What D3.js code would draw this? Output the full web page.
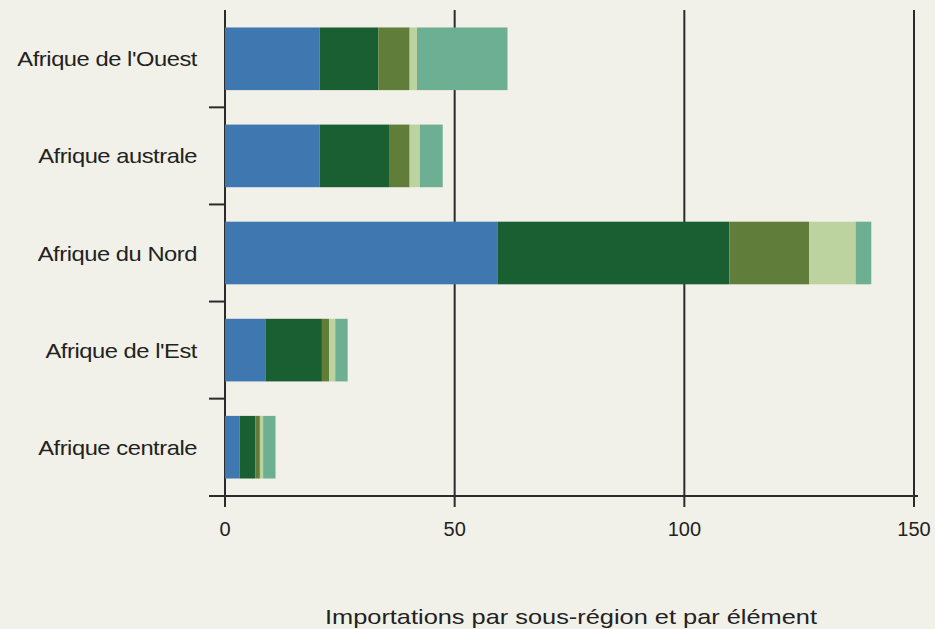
<!DOCTYPE html>
<html><head><meta charset="utf-8">
<script src="https://cdn.jsdelivr.net/npm/d3@7"></script>
<style>
html,body{margin:0;padding:0;background:#f2f1e9;}
svg{display:block;}
text{font-family:"Liberation Sans",Arial,sans-serif;fill:#222;}
</style></head>
<body>
<script>
const categories = ["Afrique de l'Ouest","Afrique australe","Afrique du Nord","Afrique de l'Est","Afrique centrale"];
const seriesNames = ["s1","s2","s3","s4","s5"];
const s1 = [20.6, 20.6, 59.3, 8.8, 3.2];
const s2 = [12.8, 15.1, 50.5, 12.3, 3.4];
const s3 = [6.8, 4.5, 17.4, 1.6, 1.0];
const s4 = [1.6, 2.2, 10.1, 1.3, 0.7];
const s5 = [19.7, 5.0, 3.4, 2.7, 2.7];
const colors = ["#3f78b0","#195f31","#607e3a","#bcd3a0","#6daf93"];
const xTicks = [0, 50, 100, 150];
const title = "Importations par sous-région et par élément";

const W = 935, H = 629;
const svg = d3.select("body").append("svg").attr("width", W).attr("height", H);
svg.append("rect").attr("width", W).attr("height", H).attr("fill", "#f2f1e9");

const x = d3.scaleLinear().domain([0, 150]).range([225, 914]);
const y = d3.scaleBand().domain(categories).range([10, 496]).paddingInner(0.355).paddingOuter(0.18);

const rows = categories.map((c, i) => ({cat: c, s1: s1[i], s2: s2[i], s3: s3[i], s4: s4[i], s5: s5[i]}));
const stack = d3.stack().keys(seriesNames)(rows);

// gridlines & bottom ticks
svg.append("g").selectAll("line").data(xTicks).join("line")
  .attr("x1", d => x(d)).attr("x2", d => x(d))
  .attr("y1", 10).attr("y2", 507)
  .attr("stroke", "#2b2b2b").attr("stroke-width", 2);

// bars
svg.append("g").selectAll("g").data(stack).join("g")
  .attr("fill", (d, i) => colors[i])
  .selectAll("rect").data(d => d).join("rect")
  .attr("x", d => x(d[0]))
  .attr("width", d => x(d[1]) - x(d[0]))
  .attr("y", d => y(d.data.cat))
  .attr("height", y.bandwidth());

// x axis line
svg.append("line").attr("x1", 209).attr("x2", 918).attr("y1", 496).attr("y2", 496)
  .attr("stroke", "#2b2b2b").attr("stroke-width", 2);

// y axis band separator ticks
const step = y.step();
const seps = categories.slice(1).map(c => y(c) - (step - y.bandwidth()) / 2);
svg.append("g").selectAll("line").data(seps).join("line")
  .attr("x1", 209).attr("x2", x(0)).attr("y1", d => d).attr("y2", d => d)
  .attr("stroke", "#2b2b2b").attr("stroke-width", 2);

// category labels
svg.append("g").selectAll("text").data(categories).join("text")
  .attr("transform", d => `translate(197,${y(d) + y.bandwidth() / 2 + 7.5}) scale(1.13,1)`)
  .attr("text-anchor", "end")
  .style("font-size", "21px").style("letter-spacing", "-0.4px")
  .text(d => d);

// tick labels
svg.append("g").selectAll("text").data(xTicks).join("text")
  .attr("x", d => x(d)).attr("y", 536)
  .attr("text-anchor", "middle")
  .style("font-size", "20px")
  .text(d => d);

svg.append("text").attr("x", 571).attr("y", 624)
  .attr("text-anchor", "middle")
  .attr("textLength", 492).attr("lengthAdjust", "spacingAndGlyphs")
  .style("font-size", "21px")
  .text(title);
</script>
</body></html>
